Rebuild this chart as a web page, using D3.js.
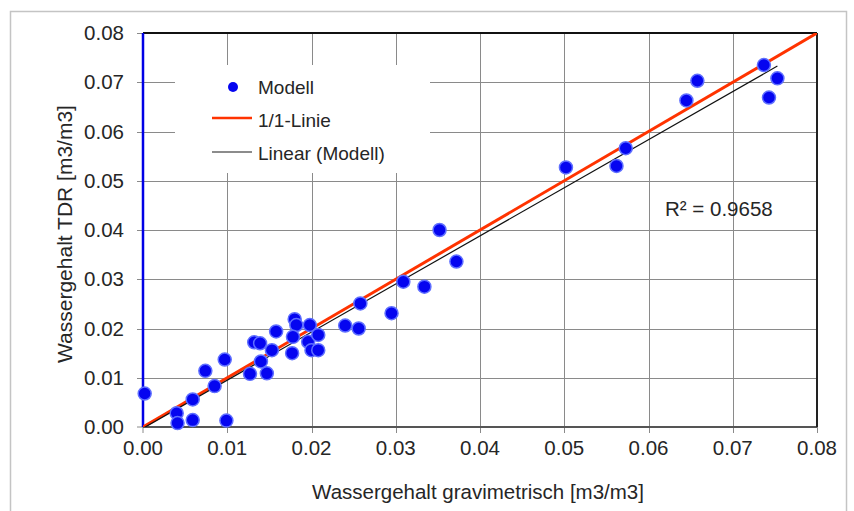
<!DOCTYPE html>
<html lang="de">
  <head>
    <meta charset="UTF-8" />
    <title>Wassergehalt</title>
    <style>
      body {
        margin: 0;
        background: #fff;
      }
      text {
        font-family: "Liberation Sans", Arial, sans-serif;
        fill: #262626;
      }
    </style>
  </head>

  <body>
    <script src="https://cdn.jsdelivr.net/npm/d3@7/dist/d3.min.js"></script>
    <script>
      // Messwerte (gravimetrisch, TDR) in m3/m3
      const gravimetrisch = [
        0.0002, 0.004, 0.0041, 0.0059, 0.0059, 0.0074, 0.0085, 0.0097, 0.0099,
        0.0127, 0.0132, 0.0139, 0.014, 0.0147, 0.0153, 0.0158, 0.0177, 0.018,
        0.0182, 0.0178, 0.0198, 0.0196, 0.0208, 0.02, 0.0208, 0.024, 0.0256,
        0.0258, 0.0295, 0.0309, 0.0334, 0.0352, 0.0372, 0.0502, 0.0562,
        0.0573, 0.0645, 0.0658, 0.0737, 0.0753, 0.0743,
      ];
      const tdr = [
        0.0068, 0.0028, 0.0008, 0.0014, 0.0056, 0.0114, 0.0083, 0.0137, 0.0013,
        0.0108, 0.0172, 0.017, 0.0133, 0.0109, 0.0156, 0.0194, 0.015, 0.0219,
        0.0207, 0.0183, 0.0207, 0.0173, 0.0187, 0.0156, 0.0156, 0.0206, 0.02,
        0.0251, 0.0231, 0.0295, 0.0285, 0.04, 0.0336, 0.0527, 0.053, 0.0566,
        0.0663, 0.0703, 0.0735, 0.0708, 0.0669,
      ];
      const ticks = [0, 0.01, 0.02, 0.03, 0.04, 0.05, 0.06, 0.07, 0.08];
      const einsZuEins = [0, 0.08];
      const legende = ["Modell", "1/1-Linie", "Linear (Modell)"];
      const r2Text = "R² = 0.9658";

      const largeur = 854;
      const hauteur = 511;
      const marge = { haut: 33, droite: 37, bas: 84, gauche: 143 };

      const svg = d3
        .select("body")
        .append("svg")
        .attr("width", largeur)
        .attr("height", hauteur);

      // Rahmen
      svg
        .append("rect")
        .attr("x", 10.5)
        .attr("y", 11.5)
        .attr("width", 836)
        .attr("height", 510)
        .attr("fill", "#fff")
        .attr("stroke", "#c4c4c4")
        .attr("stroke-width", 1.5);

      const x = d3
        .scaleLinear()
        .domain([0, 0.08])
        .range([marge.gauche, largeur - marge.droite]);
      const y = d3
        .scaleLinear()
        .domain([0, 0.08])
        .range([hauteur - marge.bas, marge.haut]);

      const fmt = d3.format(".2f");

      // Gitter
      const gitter = svg.append("g").attr("stroke", "#8a8a8a").attr("stroke-width", 1);
      gitter
        .selectAll("line.h")
        .data(ticks.slice(1))
        .enter()
        .append("line")
        .attr("x1", x(0) - 6)
        .attr("x2", x(0.08))
        .attr("y1", (d) => Math.round(y(d)) + 0.5)
        .attr("y2", (d) => Math.round(y(d)) + 0.5);
      gitter
        .selectAll("line.v")
        .data(ticks.slice(1))
        .enter()
        .append("line")
        .attr("y1", y(0) + 6)
        .attr("y2", y(0.08))
        .attr("x1", (d) => Math.round(x(d)) + 0.5)
        .attr("x2", (d) => Math.round(x(d)) + 0.5);
      gitter
        .append("line")
        .attr("x1", x(0) - 6)
        .attr("x2", x(0))
        .attr("y1", y(0))
        .attr("y2", y(0));
      gitter
        .append("line")
        .attr("x1", x(0))
        .attr("x2", x(0))
        .attr("y1", y(0))
        .attr("y2", y(0) + 6);

      // Legendenhintergrund (verdeckt Gitter)
      svg
        .append("rect")
        .attr("x", 175)
        .attr("y", 65)
        .attr("width", 255)
        .attr("height", 108)
        .attr("fill", "#fff");

      // Achsenlinien
      svg
        .append("line")
        .attr("x1", x(0))
        .attr("x2", x(0.08))
        .attr("y1", y(0))
        .attr("y2", y(0))
        .attr("stroke", "#555")
        .attr("stroke-width", 2);
      svg
        .append("line")
        .attr("x1", x(0))
        .attr("x2", x(0.08))
        .attr("y1", y(0.08))
        .attr("y2", y(0.08))
        .attr("stroke", "#111")
        .attr("stroke-width", 2);
      svg
        .append("line")
        .attr("x1", x(0.08))
        .attr("x2", x(0.08))
        .attr("y1", y(0))
        .attr("y2", y(0.08))
        .attr("stroke", "#222")
        .attr("stroke-width", 2);
      svg
        .append("line")
        .attr("x1", x(0))
        .attr("x2", x(0))
        .attr("y1", y(0))
        .attr("y2", y(0.08))
        .attr("stroke", "#0000e6")
        .attr("stroke-width", 2.5);

      // Beschriftung der Achsen
      svg
        .selectAll("text.yt")
        .data(ticks)
        .enter()
        .append("text")
        .attr("x", x(0) - 19)
        .attr("y", (d) => y(d) + 7)
        .attr("text-anchor", "end")
        .attr("font-size", 20.5)
        .text(fmt);
      svg
        .selectAll("text.xt")
        .data(ticks)
        .enter()
        .append("text")
        .attr("x", (d) => x(d))
        .attr("y", y(0) + 28)
        .attr("text-anchor", "middle")
        .attr("font-size", 20.5)
        .text(fmt);

      svg
        .append("text")
        .attr("x", 478)
        .attr("y", 499)
        .attr("text-anchor", "middle")
        .attr("font-size", 20.5)
        .text("Wassergehalt gravimetrisch [m3/m3]");
      svg
        .append("text")
        .attr("transform", "translate(72,234) rotate(-90)")
        .attr("text-anchor", "middle")
        .attr("font-size", 21)
        .text("Wassergehalt TDR  [m3/m3]");

      // Lineare Regression wie in Excel (min x bis max x)
      const n = gravimetrisch.length;
      const mx = d3.mean(gravimetrisch);
      const my = d3.mean(tdr);
      let sxy = 0;
      let sxx = 0;
      gravimetrisch.forEach((g, i) => {
        sxy += (g - mx) * (tdr[i] - my);
        sxx += (g - mx) * (g - mx);
      });
      const pente = sxy / sxx;
      const origine = my - pente * mx;
      const xTrend = d3.extent(gravimetrisch);

      const clip = svg
        .append("clipPath")
        .attr("id", "zone")
        .append("rect")
        .attr("x", x(0))
        .attr("y", y(0.08))
        .attr("width", x(0.08) - x(0))
        .attr("height", y(0) - y(0.08));

      const plot = svg.append("g").attr("clip-path", "url(#zone)");

      plot
        .append("line")
        .attr("x1", x(einsZuEins[0]))
        .attr("y1", y(einsZuEins[0]))
        .attr("x2", x(einsZuEins[1]))
        .attr("y2", y(einsZuEins[1]))
        .attr("stroke", "#ff3300")
        .attr("stroke-width", 3);

      plot
        .append("line")
        .attr("x1", x(xTrend[0]))
        .attr("y1", y(origine + pente * xTrend[0]))
        .attr("x2", x(xTrend[1]))
        .attr("y2", y(origine + pente * xTrend[1]))
        .attr("stroke", "#111")
        .attr("stroke-width", 1.2);

      svg
        .append("g")
        .selectAll("circle")
        .data(gravimetrisch.map((g, i) => [g, tdr[i]]))
        .enter()
        .append("circle")
        .attr("cx", (d) => x(d[0]))
        .attr("cy", (d) => y(d[1]))
        .attr("r", 6.5)
        .attr("fill", "#0505f0")
        .attr("stroke", "#5f6fff")
        .attr("stroke-width", 1.5);

      svg
        .append("text")
        .attr("x", 665)
        .attr("y", 216)
        .attr("font-size", 20.5)
        .text(r2Text);

      // Legende
      const leg = svg.append("g");
      leg
        .append("circle")
        .attr("cx", 233)
        .attr("cy", 87)
        .attr("r", 5)
        .attr("fill", "#0505f0");
      leg
        .append("line")
        .attr("x1", 212)
        .attr("x2", 252)
        .attr("y1", 118)
        .attr("y2", 118)
        .attr("stroke", "#ff3300")
        .attr("stroke-width", 2.5);
      leg
        .append("line")
        .attr("x1", 212)
        .attr("x2", 252)
        .attr("y1", 152)
        .attr("y2", 152)
        .attr("stroke", "#666")
        .attr("stroke-width", 1.5);
      leg
        .selectAll("text")
        .data(legende)
        .enter()
        .append("text")
        .attr("x", 258)
        .attr("y", (d, i) => 94 + i * 33)
        .attr("font-size", 19)
        .text((d) => d);
    </script>
  </body>
</html>
